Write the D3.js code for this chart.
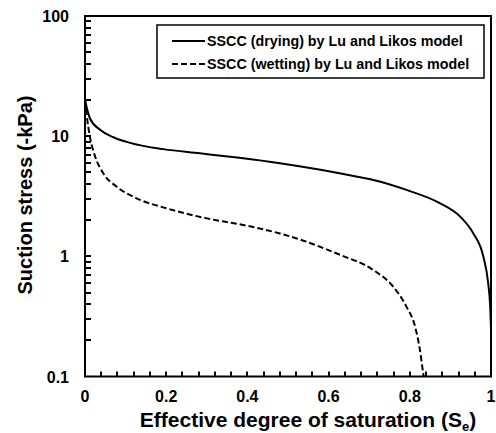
<!DOCTYPE html>
<html><head><meta charset="utf-8">
<script src="https://cdn.jsdelivr.net/npm/d3@7"></script>
<style>body{margin:0;background:#fff}svg{display:block}text{font-family:Arial,"Liberation Sans",sans-serif}</style>
</head><body>
<svg id="chart" width="496" height="433"></svg>
<script>
// Data
const seDry = [0, 0.012, 0.037, 0.07, 0.111, 0.193, 0.283, 0.38, 0.48, 0.58, 0.677, 0.71, 0.792, 0.874, 0.924, 0.956, 0.981, 0.993, 0.998, 1.0];
const stressDry = [20, 14.1, 11.3, 9.8, 8.8, 7.8, 7.2, 6.6, 5.95, 5.25, 4.55, 4.32, 3.57, 2.77, 2.14, 1.56, 1.0, 0.6, 0.38, 0.25];
const seWet = [0, 0.0057, 0.012, 0.025, 0.045, 0.078, 0.127, 0.201, 0.3, 0.38, 0.48, 0.53, 0.579, 0.628, 0.71, 0.759, 0.792, 0.813, 0.825, 0.833, 0.836];
const stressWet = [20, 13.6, 9.9, 6.76, 4.91, 3.8, 3.04, 2.51, 2.07, 1.85, 1.55, 1.38, 1.2, 1.03, 0.77, 0.56, 0.38, 0.26, 0.166, 0.106, 0.09];
const xTickLabels = ["0", "0.2", "0.4", "0.6", "0.8", "1"];
const xTickValues = [0, 0.2, 0.4, 0.6, 0.8, 1];
const yTickValues = [0.1, 1, 10, 100];
const yTickLabels = ["0.1", "1", "10", "100"];
const seriesNames = ["SSCC (drying) by Lu and Likos model", "SSCC (wetting) by Lu and Likos model"];

const svg = d3.select("#chart");
const L = 85, R = 491, T = 16, B = 376.5;
const x = d3.scaleLinear().domain([0, 1]).range([L, R]);
const y = d3.scaleLog().domain([0.1, 100]).range([B, T]);

svg.append("defs").append("clipPath").attr("id", "clip")
  .append("rect").attr("x", L).attr("y", T).attr("width", R - L).attr("height", B - T);

// curves
const line = d3.line().x(d => x(d[0])).y(d => y(d[1])).curve(d3.curveMonotoneX);
const dry = seDry.map((s, i) => [s, stressDry[i]]);
const wet = seWet.map((s, i) => [s, stressWet[i]]);
const gC = svg.append("g").attr("clip-path", "url(#clip)");
gC.append("path").attr("d", line(dry)).attr("fill", "none").attr("stroke", "#000").attr("stroke-width", 2);
gC.append("path").attr("d", line(wet)).attr("fill", "none").attr("stroke", "#000").attr("stroke-width", 2)
  .attr("stroke-dasharray", "6,3");

// frame
svg.append("rect").attr("x", L).attr("y", T).attr("width", R - L).attr("height", B - T)
  .attr("fill", "none").attr("stroke", "#000").attr("stroke-width", 2);

// minor ticks x every 0.04 (inside)
const xMinor = d3.range(1, 25).map(i => i * 0.04);
const xTickPath = xMinor.map(d => `M${Math.round(x(d))},${B}V${B - 5}`).join("");
svg.append("path").attr("d", xTickPath).attr("fill", "none")
  .attr("stroke", "#000").attr("stroke-width", 2);

// minor ticks y (log) inside
const yMinor = [];
[0.1, 1, 10].forEach(d => { for (let k = 1; k <= 9; k++) yMinor.push(d * k); });
const yTickPath = yMinor.slice(1).map(d => `M${L},${Math.round(y(d))}H${L + 6}`).join("");
svg.append("path").attr("d", yTickPath).attr("fill", "none")
  .attr("stroke", "#000").attr("stroke-width", 2);

// tick labels
svg.append("g").selectAll("text").data(xTickValues).join("text")
  .attr("x", d => x(d)).attr("y", 402).attr("text-anchor", "middle")
  .attr("font-size", 16).attr("font-weight", "bold").attr("fill", "#000")
  .text((d, i) => xTickLabels[i]);

svg.append("g").selectAll("text").data(yTickValues).join("text")
  .attr("x", 69).attr("y", d => y(d) + 6).attr("text-anchor", "end")
  .attr("font-size", 16).attr("font-weight", "bold").attr("fill", "#000")
  .text((d, i) => yTickLabels[i]);

// legend
const lg = svg.append("g");
lg.append("rect").attr("x", 157).attr("y", 25).attr("width", 327).attr("height", 53)
  .attr("fill", "#fff").attr("stroke", "#000").attr("stroke-width", 1.5);
const dashes = [null, "6,3"];
seriesNames.forEach((name, i) => {
  const yy = 41 + i * 23;
  lg.append("line").attr("x1", 172).attr("x2", 205).attr("y1", yy).attr("y2", yy)
    .attr("stroke", "#000").attr("stroke-width", 2)
    .attr("stroke-dasharray", dashes[i]);
  lg.append("text").attr("x", 207).attr("y", yy + 5).attr("font-size", 14.3).attr("font-weight", "bold")
    .text(name);
});

// axis titles
const xt = svg.append("text").attr("x", 308).attr("y", 427).attr("text-anchor", "middle")
  .attr("font-size", 21).attr("font-weight", "bold");
xt.append("tspan").text("Effective degree of saturation (S");
xt.append("tspan").attr("font-size", 13).attr("dy", 4).text("e");
xt.append("tspan").attr("dy", -4).text(")");

svg.append("text").attr("transform", "translate(32,195) rotate(-90)").attr("text-anchor", "middle")
  .attr("font-size", 20).attr("font-weight", "bold").text("Suction stress (-kPa)");
</script>
</body></html>
